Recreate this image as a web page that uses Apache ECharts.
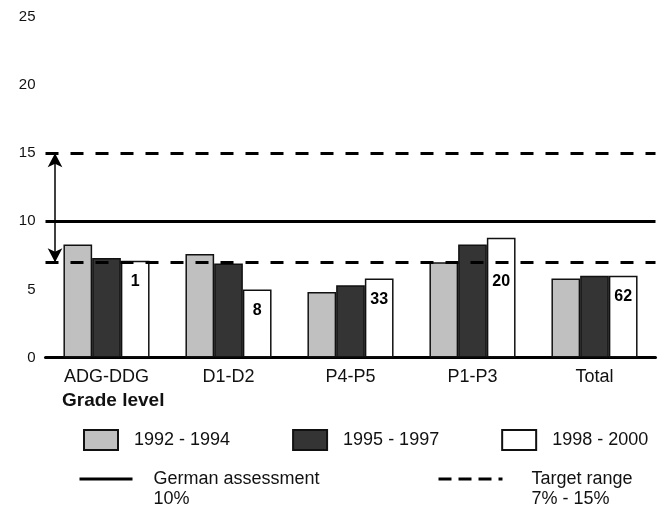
<!DOCTYPE html>
<html>
<head>
<meta charset="utf-8">
<script src="https://cdn.jsdelivr.net/npm/echarts@6/dist/echarts.min.js"></script>
<style>
  html, body { margin: 0; padding: 0; background: #fff; }
  #chart { width: 662px; height: 509px; }
</style>
</head>
<body>
<div id="chart"></div>
<script>
// Share of pupils per grade level, three survey periods
const gradeLevels = ['ADG-DDG', 'D1-D2', 'P4-P5', 'P1-P3', 'Total'];
const period1992 = [8.3, 7.6, 4.8, 7.0, 5.8];
const period1995 = [7.3, 6.9, 5.3, 8.3, 6.0];
const period1998 = [7.1, 5.0, 5.8, 8.8, 6.0];
// number of cases printed inside the 1998 - 2000 bars
const sampleSizes = [1, 8, 33, 20, 62];
// reference levels
const germanAssessment = 10;
const targetRange = [7, 15];
// value axis ticks
const yTicks = [0, 5, 10, 15, 20, 25];

const FONT = '"Liberation Sans", Arial, Helvetica, sans-serif';
const INK = '#111';
const NO_DOT = { color: 'rgba(0,0,0,0)', borderWidth: 0 };

const chart = echarts.init(document.getElementById('chart'), null, { renderer: 'canvas' });

const barBase = {
  type: 'bar',
  barWidth: 28.7,
  barGap: '0%',
  silent: true,
  animation: false
};

// legend text for the reference lines: an empty first line keeps the
// caption's first row level with the line sample
const lineKeyText = (caption, detail) => '\n' + caption + '\n' + detail;

const option = {
  animation: false,
  backgroundColor: '#fff',
  textStyle: { fontFamily: FONT },
  title: {
    text: 'Grade level',
    left: 62,
    top: 391,
    padding: 0,
    textStyle: { fontFamily: FONT, fontSize: 19, fontWeight: 'bold', color: INK }
  },
  grid: { left: 45.5, width: 610, top: 17, height: 340.5, containLabel: false },
  xAxis: [
    {
      type: 'category',
      data: gradeLevels,
      axisLine: { lineStyle: { color: '#000', width: 3 } },
      axisTick: { show: false },
      axisLabel: { fontFamily: FONT, fontSize: 18, color: INK, margin: 11 }
    },
    // hidden linear axis used to place the range arrow
    { type: 'value', min: 0, max: 5, show: false }
  ],
  yAxis: {
    type: 'value',
    min: yTicks[0],
    max: yTicks[yTicks.length - 1],
    interval: yTicks[1] - yTicks[0],
    axisLine: { show: false },
    axisTick: { show: false },
    splitLine: { show: false },
    axisLabel: { fontFamily: FONT, fontSize: 15, color: INK, margin: 10 }
  },
  legend: [
    {
      data: ['1992 - 1994', '1995 - 1997', '1998 - 2000'],
      icon: 'rect',
      left: 83,
      top: 429,
      padding: 0,
      itemWidth: 34,
      itemHeight: 20,
      itemGap: 62,
      selectedMode: false,
      textStyle: { fontFamily: FONT, fontSize: 18, color: INK, padding: [0, 0, 0, 11] }
    },
    {
      data: ['German assessment'],
      left: 78,
      top: 449,
      padding: 0,
      itemWidth: 53,
      itemHeight: 14,
      selectedMode: false,
      formatter: () => lineKeyText('German assessment', germanAssessment + '%'),
      lineStyle: { width: 3, color: '#000', type: 'solid' },
      itemStyle: NO_DOT,
      textStyle: { fontFamily: FONT, fontSize: 18, color: INK, lineHeight: 20, padding: [0, 0, 0, 16] }
    },
    {
      data: ['Target range'],
      left: 437,
      top: 449,
      padding: 0,
      itemWidth: 64,
      itemHeight: 14,
      selectedMode: false,
      formatter: () => lineKeyText('Target range', targetRange[0] + '% - ' + targetRange[1] + '%'),
      lineStyle: { width: 3, color: '#000', type: [13, 7] },
      itemStyle: NO_DOT,
      textStyle: { fontFamily: FONT, fontSize: 18, color: INK, lineHeight: 20, padding: [0, 0, 0, 24] }
    }
  ],
  series: [
    Object.assign({}, barBase, {
      name: '1992 - 1994',
      data: period1992,
      itemStyle: { color: '#c0c0c0', borderColor: '#111', borderWidth: 1.5 }
    }),
    Object.assign({}, barBase, {
      name: '1995 - 1997',
      data: period1995,
      itemStyle: { color: '#343434', borderColor: '#111', borderWidth: 1.5 }
    }),
    Object.assign({}, barBase, {
      name: '1998 - 2000',
      data: period1998.map((v, i) => ({
        value: v,
        label: { distance: gradeLevels[i] === 'P1-P3' ? 36 : 13 }
      })),
      itemStyle: { color: '#ffffff', borderColor: '#111', borderWidth: 1.5 },
      label: {
        show: true,
        position: 'insideTop',
        distance: 13,
        fontFamily: FONT,
        fontSize: 16,
        fontWeight: 'bold',
        color: '#000',
        formatter: (p) => String(sampleSizes[p.dataIndex])
      }
    }),
    {
      name: 'German assessment',
      type: 'line',
      xAxisIndex: 1,
      data: [],
      symbol: 'none',
      silent: true,
      itemStyle: NO_DOT,
      lineStyle: { color: '#000', width: 3 },
      markLine: {
        silent: true,
        animation: false,
        symbol: ['none', 'none'],
        label: { show: false },
        lineStyle: { color: '#000', width: 3, type: 'solid' },
        data: [{ yAxis: germanAssessment }]
      }
    },
    {
      name: 'Target range',
      type: 'line',
      xAxisIndex: 1,
      data: [],
      symbol: 'none',
      silent: true,
      itemStyle: NO_DOT,
      lineStyle: { color: '#000', width: 3, type: [13, 12] },
      markLine: {
        silent: true,
        animation: false,
        symbol: ['none', 'none'],
        label: { show: false },
        lineStyle: { color: '#000', width: 3, type: [13, 12] },
        data: [
          { yAxis: targetRange[1] },
          { yAxis: targetRange[0] },
          [
            { coord: [0.078, targetRange[1]], symbol: 'arrow', symbolSize: [11, 14],
              lineStyle: { type: 'solid', width: 1.5 } },
            { coord: [0.078, targetRange[0]], symbol: 'arrow', symbolSize: [11, 14] }
          ]
        ]
      }
    }
  ]
};

chart.setOption(option);
</script>
</body>
</html>
